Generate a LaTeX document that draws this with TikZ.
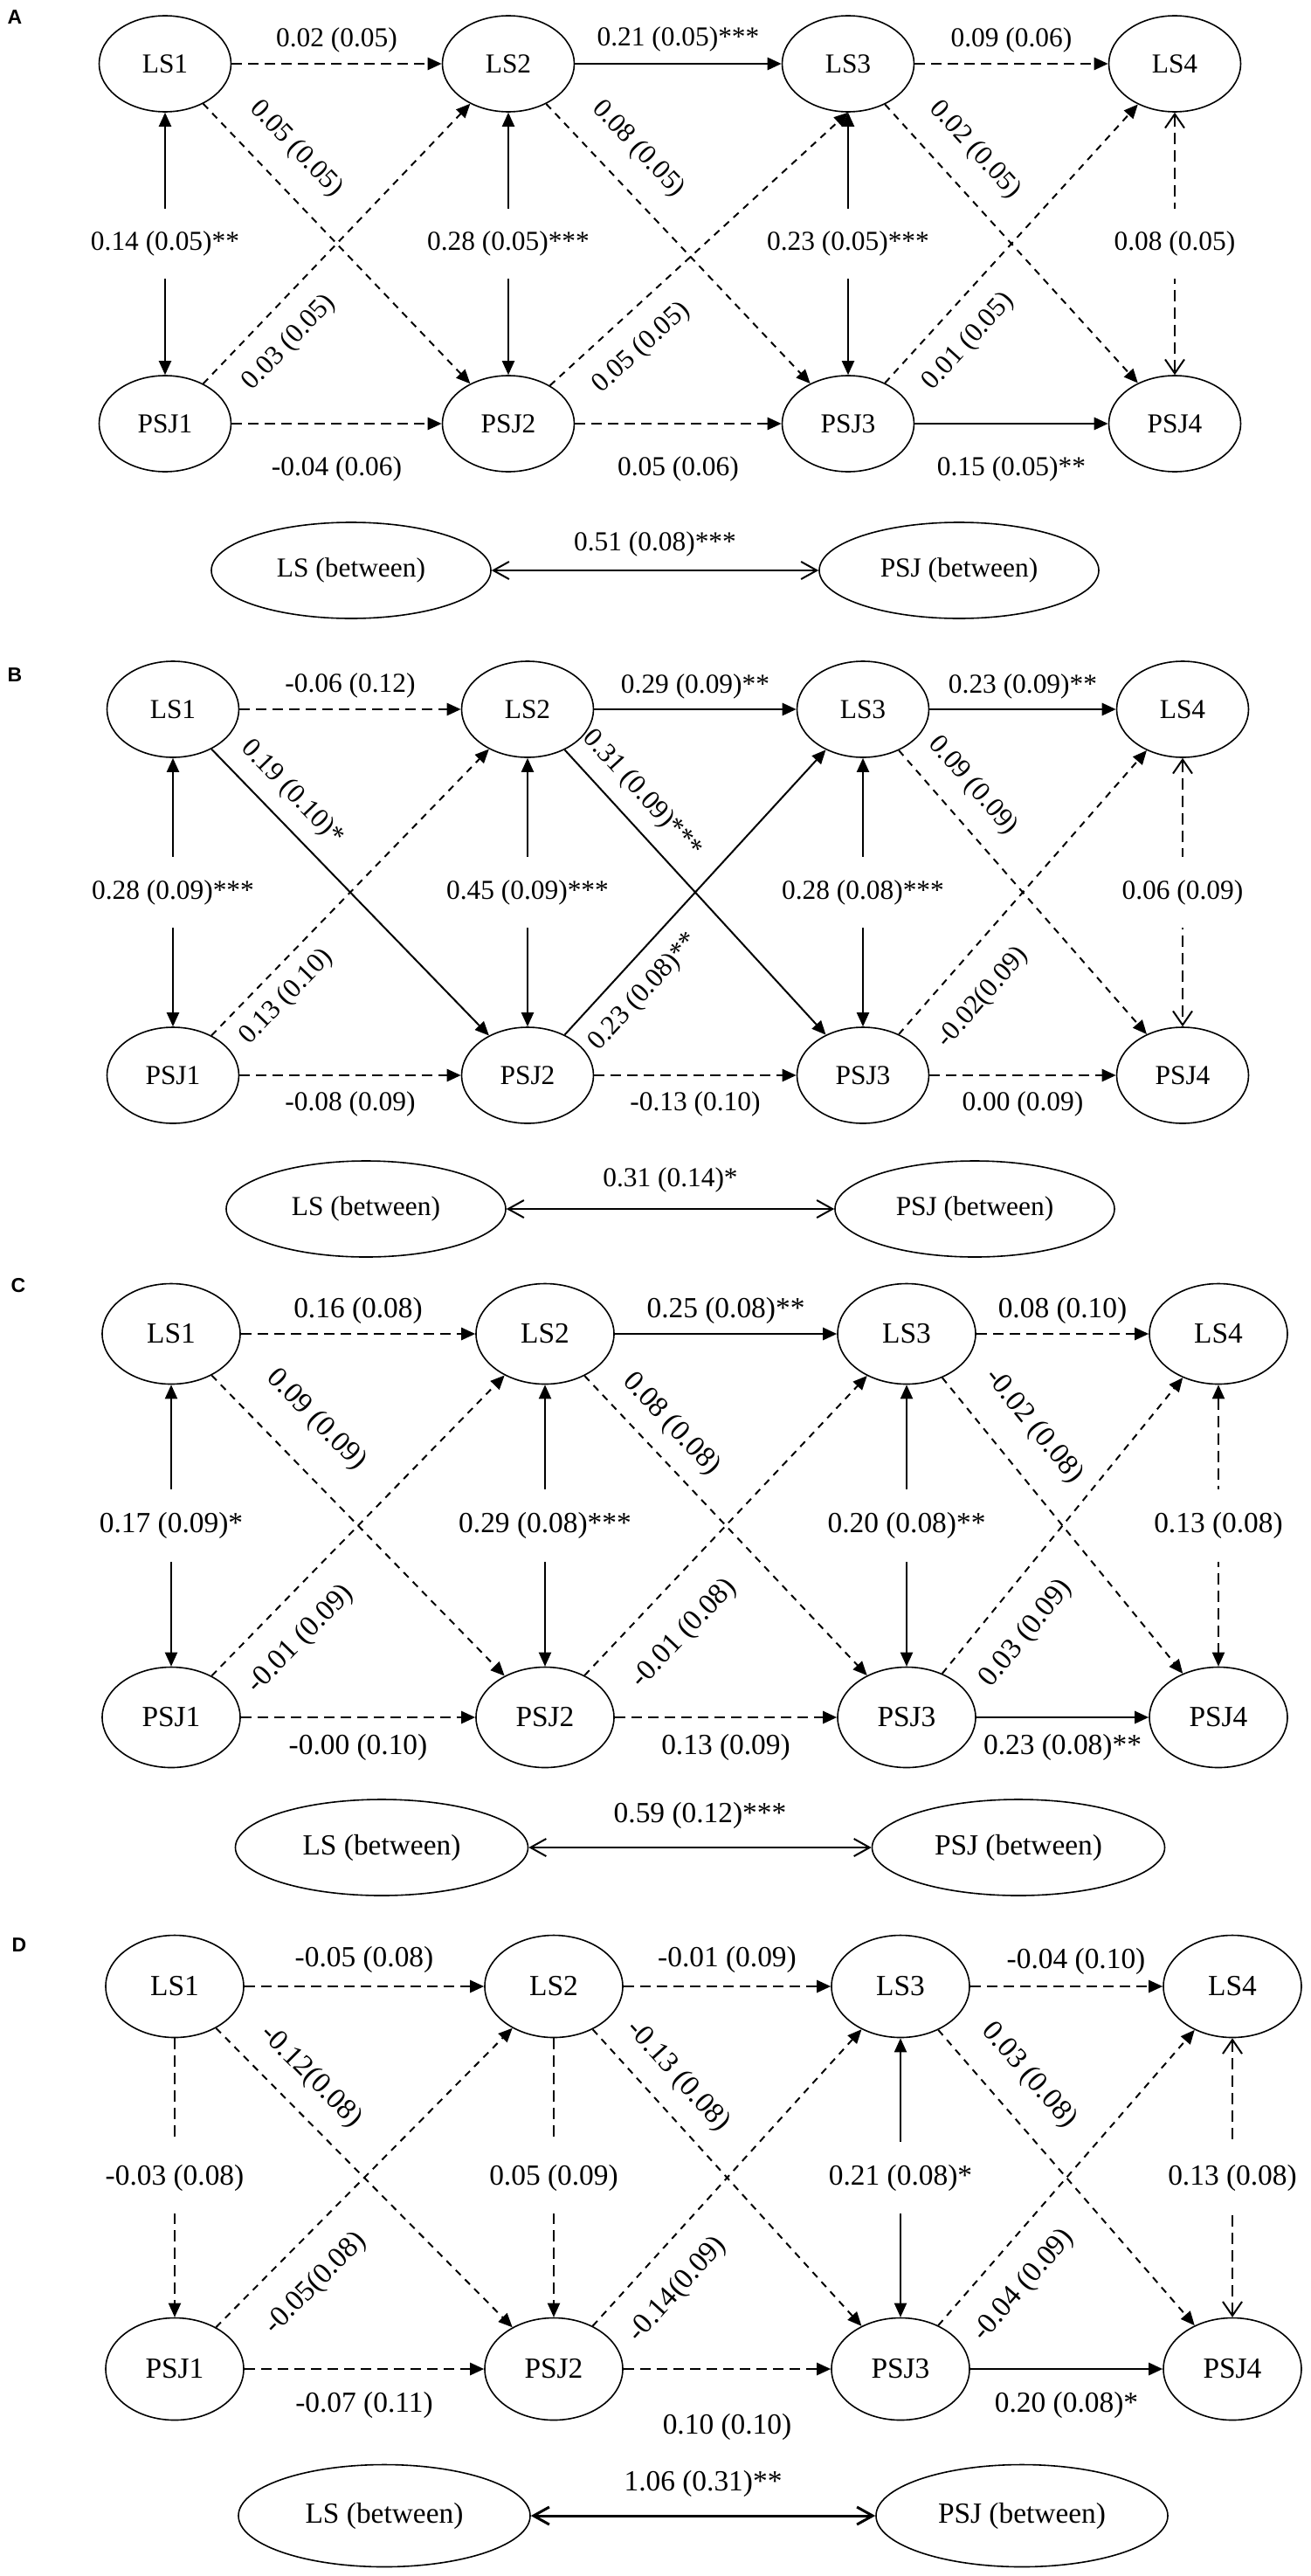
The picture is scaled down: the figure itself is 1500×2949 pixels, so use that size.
\documentclass[tikz,border=0pt]{standalone}
\usepackage{fontspec}
\setmainfont{Liberation Serif}
\newfontfamily\panelfont{Liberation Sans}
\usetikzlibrary{positioning, arrows.meta, shapes.geometric}

\begin{document}
\begin{tikzpicture}[x=0.5pt, y=-0.5pt,
    txt/.style={font=\rmfamily\fontsize{15.7}{18}\selectfont},
    lv/.style={ellipse, draw, line width=0.8pt, txt, minimum width=75.5pt, minimum height=55pt, inner sep=0pt},
    bw/.style={lv, minimum width=160pt},
    lbl/.style={txt, inner sep=1pt},
    vlbl/.style={txt, fill=white, inner xsep=2pt, inner ysep=13pt},
    dlbl/.style={txt, sloped, pos=0.23, inner xsep=1pt, inner ysep=12pt},
    tag/.style={font=\panelfont\bfseries\fontsize{11.5}{14}\selectfont, inner sep=0pt},
    arr/.style={line width=1pt, -{Triangle[length=8pt, width=7pt]}},
    biarr/.style={line width=1pt, {Triangle[length=8pt, width=7pt]}-{Triangle[length=8pt, width=7pt]}},
    obiarr/.style={line width=1pt, {Straight Barb[length=8pt, width=11pt]}-{Straight Barb[length=8pt, width=11pt]}},
    barr/.style={line width=1pt, {Straight Barb[length=9pt, width=10pt]}-{Straight Barb[length=9pt, width=10pt]}},
    thk/.style={line width=1.4pt},
    dsh/.style={line width=1.3pt, dash pattern=on 6pt off 3.5pt},
    vdsh/.style={dash pattern=on 6.5pt off 3.5pt},
    dgn/.style={dash pattern=on 4pt off 3.5pt},
]
\useasboundingbox (0,0) rectangle (1500,2949);

% A
\node[tag] (tagA) at (17,20) {A};
\foreach \i/\x in {1/189, 2/582, 3/971, 4/1345} {
    \node[lv] (aLS\i) at (\x,73) {LS\i};
    \node[lv] (aPSJ\i) at (\x,485) {PSJ\i};
}
\node[bw] (aLSb) at (402,653) {LS (between)};
\node[bw] (aPSJb) at (1098,653) {PSJ (between)};
\draw[arr, dsh] (aLS1) -- node[lbl, above=5pt] {0.02 (0.05)} (aLS2);
\draw[arr, thk] (aLS2) -- node[lbl, above=5pt] {0.21 (0.05)***} (aLS3);
\draw[arr, dsh] (aLS3) -- node[lbl, above=5pt] {0.09 (0.06)} (aLS4);
\draw[arr, dsh] (aPSJ1) -- node[lbl, below=17pt] {-0.04 (0.06)} (aPSJ2);
\draw[arr, dsh] (aPSJ2) -- node[lbl, below=17pt] {0.05 (0.06)} (aPSJ3);
\draw[arr, thk] (aPSJ3) -- node[lbl, below=17pt] {0.15 (0.05)**} (aPSJ4);
\draw[arr, dgn] (aLS1) -- node[dlbl, above, inner ysep=13pt, pos=0.25] {0.05 (0.05)} (aPSJ2);
\draw[arr, dgn] (aLS2) -- node[dlbl, above, inner ysep=13pt, pos=0.25] {0.08 (0.05)} (aPSJ3);
\draw[arr, dgn] (aLS3) -- node[dlbl, above, inner ysep=13pt, pos=0.25] {0.02 (0.05)} (aPSJ4);
\draw[arr, dgn] (aPSJ1) -- node[dlbl, below] {0.03 (0.05)} (aLS2);
\draw[arr, dgn] (aPSJ2) -- node[dlbl, below] {0.05 (0.05)} (aLS3.south);
\draw[arr, dgn] (aPSJ3) -- node[dlbl, below] {0.01 (0.05)} (aLS4);
\draw[biarr] (aLS1) -- node[vlbl] {0.14 (0.05)**} (aPSJ1);
\draw[biarr] (aLS2) -- node[vlbl] {0.28 (0.05)***} (aPSJ2);
\draw[biarr] (aLS3) -- node[vlbl] {0.23 (0.05)***} (aPSJ3);
\draw[obiarr, vdsh] (aLS4) -- node[vlbl] {0.08 (0.05)} (aPSJ4);
\draw[barr] (aLSb) -- node[lbl, above=6.5pt] {0.51 (0.08)***} (aPSJb);

% B
\node[tag] (tagB) at (17,773) {B};
\foreach \i/\x in {1/198, 2/604, 3/988, 4/1354} {
    \node[lv] (bLS\i) at (\x,812) {LS\i};
    \node[lv] (bPSJ\i) at (\x,1231) {PSJ\i};
}
\node[bw] (bLSb) at (419,1384) {LS (between)};
\node[bw] (bPSJb) at (1116,1384) {PSJ (between)};
\draw[arr, dsh] (bLS1) -- node[lbl, above=5pt] {-0.06 (0.12)} (bLS2);
\draw[arr, thk] (bLS2) -- node[lbl, above=4pt] {0.29 (0.09)**} (bLS3);
\draw[arr, thk] (bLS3) -- node[lbl, above=4pt] {0.23 (0.09)**} (bLS4);
\draw[arr, dsh] (bPSJ1) -- node[lbl, below=7.5pt] {-0.08 (0.09)} (bPSJ2);
\draw[arr, dsh] (bPSJ2) -- node[lbl, below=7.5pt] {-0.13 (0.10)} (bPSJ3);
\draw[arr, dsh] (bPSJ3) -- node[lbl, below=7.5pt] {0.00 (0.09)} (bPSJ4);
\draw[arr] (bLS1) -- node[dlbl, above, inner ysep=8pt, pos=0.22] {0.19 (0.10)*} (bPSJ2);
\draw[arr] (bLS2) -- node[dlbl, above, inner ysep=8pt, pos=0.22] {0.31 (0.09)***} (bPSJ3);
\draw[arr, dgn] (bLS3) -- node[dlbl, above, inner ysep=11pt, pos=0.2] {0.09 (0.09)} (bPSJ4);
\draw[arr, dgn] (bPSJ1) -- node[dlbl, below, inner ysep=8pt, pos=0.2] {0.13 (0.10)} (bLS2);
\draw[arr] (bPSJ2) -- node[dlbl, below, inner ysep=9.5pt, pos=0.22] {0.23 (0.08)**} (bLS3);
\draw[arr, dgn] (bPSJ3) -- node[dlbl, below, inner ysep=15pt, pos=0.22] {-0.02(0.09)} (bLS4);
\draw[biarr] (bLS1) -- node[vlbl] {0.28 (0.09)***} (bPSJ1);
\draw[biarr] (bLS2) -- node[vlbl] {0.45 (0.09)***} (bPSJ2);
\draw[biarr] (bLS3) -- node[vlbl] {0.28 (0.08)***} (bPSJ3);
\draw[obiarr, vdsh] (bLS4) -- node[vlbl] {0.06 (0.09)} (bPSJ4);
\draw[barr] (bLSb) -- node[lbl, above=8pt] {0.31 (0.14)*} (bPSJb);

% C
\begin{scope}[txt/.style={font=\rmfamily\fontsize{16.7}{19}\selectfont},
    lv/.append style={minimum width=79pt, minimum height=57.5pt},
    bw/.append style={minimum width=167.5pt, minimum height=55pt}]
\node[tag] (tagC) at (21,1472) {C};
\foreach \i/\x in {1/196, 2/624, 3/1038, 4/1395} {
    \node[lv] (cLS\i) at (\x,1527) {LS\i};
    \node[lv] (cPSJ\i) at (\x,1966) {PSJ\i};
}
\node[bw] (cLSb) at (437,2115) {LS (between)};
\node[bw] (cPSJb) at (1166,2115) {PSJ (between)};
\draw[arr, dsh] (cLS1) -- node[lbl, above=4pt] {0.16 (0.08)} (cLS2);
\draw[arr, thk] (cLS2) -- node[lbl, above=4pt] {0.25 (0.08)**} (cLS3);
\draw[arr, dsh] (cLS3) -- node[lbl, above=4pt] {0.08 (0.10)} (cLS4);
\draw[arr, dsh] (cPSJ1) -- node[lbl, below=8pt] {-0.00 (0.10)} (cPSJ2);
\draw[arr, dsh] (cPSJ2) -- node[lbl, below=8pt] {0.13 (0.09)} (cPSJ3);
\draw[arr, thk] (cPSJ3) -- node[lbl, below=8pt] {0.23 (0.08)**} (cPSJ4);
\draw[arr, dgn] (cLS1) -- node[dlbl, above, inner ysep=17pt, pos=0.25] {0.09 (0.09)} (cPSJ2);
\draw[arr, dgn] (cLS2) -- node[dlbl, above, inner ysep=9pt, pos=0.23] {0.08 (0.08)} (cPSJ3);
\draw[arr, dgn] (cLS3) -- node[dlbl, above, inner ysep=15pt, pos=0.25] {-0.02 (0.08)} (cPSJ4);
\draw[arr, dgn] (cPSJ1) -- node[dlbl, below, inner ysep=14pt, pos=0.21] {-0.01 (0.09)} (cLS2);
\draw[arr, dgn] (cPSJ2) -- node[dlbl, below, inner ysep=17pt, pos=0.24] {-0.01 (0.08)} (cLS3);
\draw[arr, dgn] (cPSJ3) -- node[dlbl, below, inner ysep=15pt, pos=0.22] {0.03 (0.09)} (cLS4);
\draw[biarr] (cLS1) -- node[vlbl] {0.17 (0.09)*} (cPSJ1);
\draw[biarr] (cLS2) -- node[vlbl] {0.29 (0.08)***} (cPSJ2);
\draw[biarr] (cLS3) -- node[vlbl] {0.20 (0.08)**} (cPSJ3);
\draw[biarr, vdsh] (cLS4) -- node[vlbl] {0.13 (0.08)} (cPSJ4);
\draw[barr] (cLSb) -- node[lbl, above=9pt] {0.59 (0.12)***} (cPSJb);
\end{scope}

% D
\begin{scope}[txt/.style={font=\rmfamily\fontsize{16.7}{19}\selectfont},
    lv/.append style={minimum width=79pt, minimum height=58.5pt},
    bw/.append style={minimum width=167pt}]
\node[tag] (tagD) at (22,2227) {D};
\foreach \i/\x in {1/200, 2/634, 3/1031, 4/1411} {
    \node[lv] (dLS\i) at (\x,2274) {LS\i};
    \node[lv] (dPSJ\i) at (\x,2712) {PSJ\i};
}
\node[bw] (dLSb) at (440,2880) {LS (between)};
\node[bw] (dPSJb) at (1170,2880) {PSJ (between)};
\draw[arr, dsh] (dLS1) -- node[lbl, above=6pt] {-0.05 (0.08)} (dLS2);
\draw[arr, dsh] (dLS2) -- node[lbl, above=6pt] {-0.01 (0.09)} (dLS3);
\draw[arr, dsh] (dLS3) -- node[lbl, above=5pt, pos=0.55] {-0.04 (0.10)} (dLS4);
\draw[arr, dsh] (dPSJ1) -- node[lbl, below=11.5pt] {-0.07 (0.11)} (dPSJ2);
\draw[arr, dsh] (dPSJ2) -- node[lbl, below=24pt] {0.10 (0.10)} (dPSJ3);
\draw[arr, thk] (dPSJ3) -- node[lbl, below=11.5pt] {0.20 (0.08)*} (dPSJ4);
\draw[arr, dgn] (dLS1) -- node[dlbl, above, inner ysep=11pt, pos=0.24] {-0.12(0.08)} (dPSJ2);
\draw[arr, dgn] (dLS2) -- node[dlbl, above, inner ysep=10pt, pos=0.23] {-0.13 (0.08)} (dPSJ3);
\draw[arr, dgn] (dLS3) -- node[dlbl, above, inner ysep=14pt, pos=0.24] {0.03 (0.08)} (dPSJ4);
\draw[arr, dgn] (dPSJ1) -- node[dlbl, below, inner ysep=15pt, pos=0.24] {-0.05(0.08)} (dLS2);
\draw[arr, dgn] (dPSJ2) -- node[dlbl, below, inner ysep=14pt, pos=0.21] {-0.14(0.09)} (dLS3);
\draw[arr, dgn] (dPSJ3) -- node[dlbl, below, inner ysep=14pt, pos=0.22] {-0.04 (0.09)} (dLS4);
\draw[arr, vdsh] (dLS1) -- node[vlbl] {-0.03 (0.08)} (dPSJ1);
\draw[arr, vdsh] (dLS2) -- node[vlbl] {0.05 (0.09)} (dPSJ2);
\draw[biarr] (dLS3) -- node[vlbl] {0.21 (0.08)*} (dPSJ3);
\draw[obiarr, vdsh] (dLS4) -- node[vlbl] {0.13 (0.08)} (dPSJ4);
\draw[barr, line width=1.5pt] (dLSb) -- node[lbl, above=9pt] {1.06 (0.31)**} (dPSJb);
\end{scope}
\end{tikzpicture}
\end{document}
